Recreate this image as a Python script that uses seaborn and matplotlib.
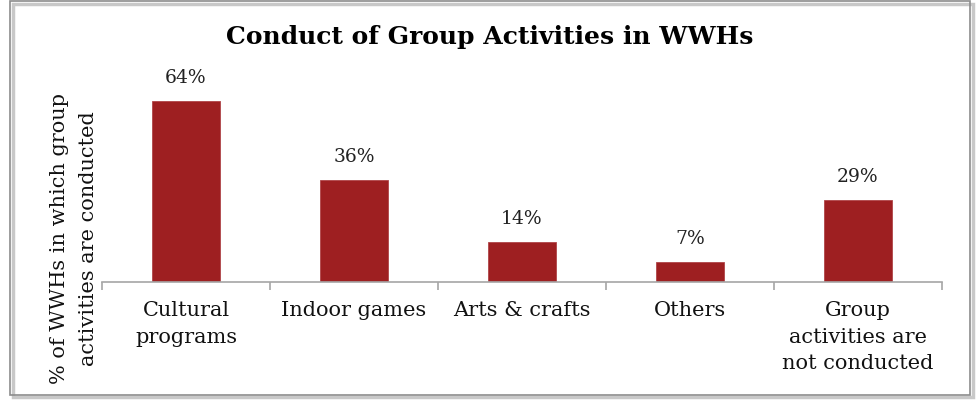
import numpy as np
import matplotlib
matplotlib.use("Agg")
import matplotlib.pyplot as plt
import seaborn as sns
from matplotlib.patches import Rectangle

# data
categories = ["Cultural\nprograms", "Indoor games", "Arts & crafts", "Others",
              "Group\nactivities are\nnot conducted"]
values = [64, 36, 14, 7, 29]
labels = ["64%", "36%", "14%", "7%", "29%"]

sns.set_style("white")
plt.rcParams["font.family"] = ["DejaVu Serif"]

fig = plt.figure(figsize=(9.78, 4.01), dpi=100)
ax = fig.add_axes([102 / 978, 1 - 282 / 401, 840 / 978, 212 / 401])

sns.barplot(x=categories, y=values, color="#9E1F21", width=0.4,
            saturation=1, ax=ax, edgecolor="#B04548", linewidth=0.6)

ax.set_ylim(0, 75)
ax.set_xlim(-0.5, len(categories) - 0.5)

for i, (v, lab) in enumerate(zip(values, labels)):
    ax.text(i, v + 5, lab, ha="center", va="bottom", fontsize=13.5, color="#222222")

# axis styling
for s in ["top", "right", "left"]:
    ax.spines[s].set_visible(False)
ax.spines["bottom"].set_color("#A6A6A6")
ax.spines["bottom"].set_linewidth(1.2)
ax.set_yticks([])
ax.set_xticks(range(len(categories)))
ax.set_xticklabels(categories, fontsize=15, color="#111111", va="top",
                   linespacing=1.5)
ax.tick_params(axis="x", which="major", length=0, pad=14, bottom=True)
ax.set_xticks(np.arange(-0.5, len(categories)), minor=True)
ax.tick_params(axis="x", which="minor", length=6, width=1.2, color="#A6A6A6",
               direction="out", bottom=True)

fig.text(490 / 978, 1 - 37 / 401, "Conduct of Group Activities in WWHs",
         ha="center", va="center", fontsize=18, fontweight="bold", color="#000000")
fig.text(74 / 978, 1 - 239 / 401, "% of WWHs in which group\nactivities are conducted",
         ha="center", va="center", rotation=90, fontsize=15, color="#111111",
         linespacing=1.65)

# frame with slight shadow
fig.patches.append(Rectangle((13 / 978, 4 / 401), 960 / 978, 393 / 401,
                             transform=fig.transFigure, facecolor="none",
                             edgecolor="#C8C8C8", linewidth=2.5, zorder=0))
fig.patches.append(Rectangle((10 / 978, 6 / 401), 960 / 978, 394 / 401,
                             transform=fig.transFigure, facecolor="none",
                             edgecolor="#8C8C8C", linewidth=1.2, zorder=1))

fig.savefig("out.png", dpi=100)
